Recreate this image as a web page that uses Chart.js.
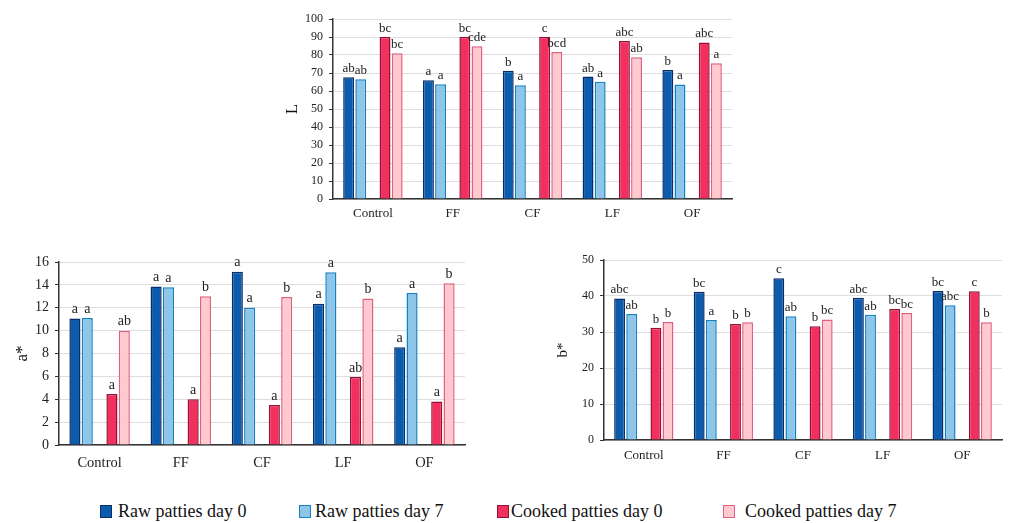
<!DOCTYPE html>
<html>
<head>
<meta charset="utf-8">
<script src="https://cdn.jsdelivr.net/npm/chart.js@4/dist/chart.umd.min.js"></script>
<style>
body { margin: 0; background: #fff; width: 1013px; height: 523px; position: relative; overflow: hidden; font-family: "Liberation Serif", "Times New Roman", serif; }
.panel { position: absolute; }
.leg { position: absolute; top: 500px; font-size: 18px; color: #111; white-space: nowrap; line-height: 22px; }
.leg i { display: inline-block; width: 10px; height: 11px; border: 1.5px solid; vertical-align: -1px; margin-right: 6px; }
</style>
</head>
<body>
<div class="panel" style="left:263px;top:0;width:474px;height:230px"><canvas id="chartL"></canvas></div>
<div class="panel" style="left:0;top:245px;width:470px;height:230px"><canvas id="chartA"></canvas></div>
<div class="panel" style="left:530px;top:245px;width:478px;height:230px"><canvas id="chartB"></canvas></div>
<div id="legend"></div>
<script>
const categories = ["Control", "FF", "CF", "LF", "OF"];
const seriesNames = ["Raw patties day 0", "Raw patties day 7", "Cooked patties day 0", "Cooked patties day 7"];
const fills = ["#0b5cad", "#8ec6ea", "#f2305f", "#ffc9cf"];
const borders = ["#0a2c68", "#1580c2", "#961035", "#e0607f"];

// L
const lRaw0 = [67.7, 66.0, 71.2, 68.0, 71.6];
const lRaw7 = [66.5, 63.8, 63.2, 65.1, 63.6];
const lCooked0 = [90.0, 90.1, 90.2, 87.8, 87.0];
const lCooked7 = [81.0, 84.8, 81.6, 78.7, 75.4];
const lLetters = [
    ["ab", "a", "b", "ab", "b"],
    ["ab", "a", "a", "a", "a"],
    ["bc", "bc", "c", "abc", "abc"],
    ["bc", "cde", "bcd", "ab", "a"]
];

// a*
const aRaw0 = [11.05, 13.85, 15.15, 12.35, 8.55];
const aRaw7 = [11.1, 13.8, 12.0, 15.1, 13.3];
const aCooked0 = [4.45, 4.0, 3.5, 5.95, 3.8];
const aCooked7 = [10.0, 13.0, 12.95, 12.8, 14.15];
const aLetters = [
    ["a", "a", "a", "a", "a"],
    ["a", "a", "a", "a", "a"],
    ["a", "a", "a", "ab", "a"],
    ["ab", "b", "b", "b", "b"]
];

// b*
const bRaw0 = [39.3, 41.2, 44.9, 39.5, 41.4];
const bRaw7 = [35.0, 33.3, 34.4, 34.8, 37.4];
const bCooked0 = [31.2, 32.2, 31.6, 36.4, 41.3];
const bCooked7 = [32.8, 32.7, 33.5, 35.3, 32.7];
const bLetters = [
    ["abc", "bc", "c", "abc", "bc"],
    ["ab", "a", "ab", "ab", "abc"],
    ["b", "b", "b", "bc", "c"],
    ["b", "b", "bc", "bc", "b"]
];

const letterPlugin = {
    id: "letters",
    afterDatasetsDraw(chart) {
        const ctx = chart.ctx;
        const o = chart.options.plugins.letters;
        ctx.save();
        ctx.font = o.size + "px 'Liberation Serif'";
        ctx.fillStyle = "#222";
        ctx.textAlign = "center";
        ctx.textBaseline = "bottom";
        chart.data.datasets.forEach((ds, i) => {
            if (!ds.letters) return;
            chart.getDatasetMeta(i).data.forEach((bar, j) => {
                ctx.fillText(ds.letters[j], bar.x, bar.y - 2);
            });
        });
        ctx.restore();
    }
};

function makeChart(id, series, letters, cfg) {
    const datasets = series.map((vals, k) => ({
        label: seriesNames[k],
        data: vals,
        letters: letters[k],
        backgroundColor: fills[k],
        borderColor: borders[k],
        borderWidth: 1.5,
        borderSkipped: "start"
    }));
    // empty slot between raw and cooked bars
    datasets.splice(2, 0, { label: "", data: [] });
    return new Chart(document.getElementById(id), {
        type: "bar",
        data: { labels: categories, datasets },
        options: {
            responsive: true,
            maintainAspectRatio: false,
            animation: false,
            barPercentage: 0.9,
            categoryPercentage: 0.76,
            layout: { padding: { top: cfg.top, right: cfg.right, left: 0, bottom: 0 } },
            plugins: {
                legend: { display: false },
                tooltip: { enabled: false },
                letters: { size: cfg.letterSize }
            },
            scales: {
                x: {
                    grid: { display: false, drawTicks: false },
                    border: { display: true, color: "#333", width: 1.5 },
                    ticks: { color: "#222", padding: cfg.xPad, font: { family: "Liberation Serif", size: cfg.catSize } },
                    afterFit: s => { s.height = cfg.xHeight; }
                },
                y: {
                    min: 0,
                    max: cfg.max,
                    ticks: { stepSize: cfg.step, color: "#222", padding: 6, font: { family: "Liberation Serif", size: cfg.tickSize } },
                    grid: { color: "#dedede", lineWidth: 1, tickLength: 4, tickColor: "#333" },
                    border: { display: true, color: "#333", width: 1.5 },
                    title: { display: true, text: cfg.title, color: "#111", padding: { top: cfg.titlePad, bottom: 0 }, font: { family: "Liberation Serif", size: cfg.titleSize } },
                    afterFit: s => { s.width = cfg.yWidth; }
                }
            }
        },
        plugins: [letterPlugin]
    });
}

makeChart("chartL", [lRaw0, lRaw7, lCooked0, lCooked7], lLetters,
    { top: 19, right: 5, xHeight: 31, yWidth: 70, max: 100, step: 10, title: "L", titleSize: 17, titlePad: 19, tickSize: 12, catSize: 13, letterSize: 13, xPad: 7 });
makeChart("chartA", [aRaw0, aRaw7, aCooked0, aCooked7], aLetters,
    { top: 17, right: 5, xHeight: 30, yWidth: 59, max: 16, step: 2, title: "a*", titleSize: 17, titlePad: 12, tickSize: 14, catSize: 14.5, letterSize: 14, xPad: 9 });
makeChart("chartB", [bRaw0, bRaw7, bCooked0, bCooked7], bLetters,
    { top: 15, right: 6, xHeight: 35, yWidth: 74, max: 50, step: 10, title: "b*", titleSize: 15, titlePad: 24, tickSize: 12, catSize: 13, letterSize: 13, xPad: 8 });

const legendLeft = [100, 299, 497, 723];
const legendGap = [6, 4, 2, 10];
const legend = document.getElementById("legend");
seriesNames.forEach((name, k) => {
    const d = document.createElement("div");
    d.className = "leg";
    d.style.left = legendLeft[k] + "px";
    d.innerHTML = `<i style="background:${fills[k]};border-color:${borders[k]};margin-right:${legendGap[k]}px"></i>${name}`;
    legend.appendChild(d);
});
</script>
</body>
</html>
